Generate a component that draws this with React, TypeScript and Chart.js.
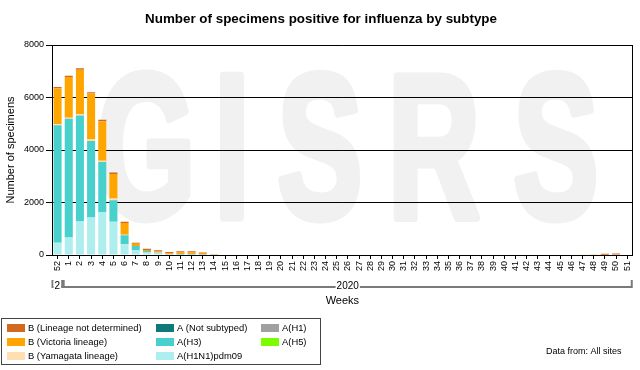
import React, { useEffect, useRef } from "react";
import { Chart, registerables } from "chart.js";

Chart.register(...registerables);

const FONT = '"Liberation Sans", Arial, sans-serif';

const weeks = [
  "52", "1", "2", "3", "4", "5", "6", "7", "8", "9", "10", "11", "12", "13", "14", "15", "16", "17", "18", "19",
  "20", "21", "22", "23", "24", "25", "26", "27", "28", "29", "30", "31", "32", "33", "34", "35", "36", "37", "38",
  "39", "40", "41", "42", "43", "44", "45", "46", "47", "48", "49", "50", "51",
];

const yearLabels = ["2019", "2020"];
const yearStartIndex = [0, 1];

// Values per week (index 0 = week 52 of 2019)
const h1n1pdm09 = [
  470, 670, 1280, 1430, 1640, 1270, 410, 190, 100, 60, 20, 20, 20, 10, 5, 0, 0, 0, 0, 0,
  0, 0, 0, 0, 0, 0, 0, 0, 0, 0, 0, 0, 0, 0, 0, 0, 0, 0, 0,
  0, 0, 0, 0, 0, 0, 0, 0, 0, 0, 0, 0, 0,
];
const h3 = [
  4470, 4520, 4030, 2910, 1900, 820, 340, 150, 50, 30, 10, 20, 20, 10, 5, 0, 0, 0, 0, 0,
  0, 0, 0, 0, 0, 0, 0, 0, 0, 0, 0, 0, 0, 0, 0, 0, 0, 0, 0,
  0, 0, 0, 0, 0, 0, 0, 0, 0, 0, 0, 0, 0,
];
const notSubtyped = [
  0, 0, 0, 0, 0, 0, 0, 0, 0, 0, 0, 0, 0, 0, 0, 0, 0, 0, 0, 0,
  0, 0, 0, 0, 0, 0, 0, 0, 0, 0, 0, 0, 0, 0, 0, 0, 0, 0, 0,
  0, 0, 0, 0, 0, 0, 0, 0, 0, 0, 0, 0, 0,
];
const h1 = [
  0, 0, 0, 0, 0, 0, 0, 0, 0, 0, 0, 0, 0, 0, 0, 0, 0, 0, 0, 0,
  0, 0, 0, 0, 0, 0, 0, 0, 0, 0, 0, 0, 0, 0, 0, 0, 0, 0, 0,
  0, 0, 0, 0, 0, 0, 0, 0, 0, 0, 0, 0, 0,
];
const h5 = [
  0, 0, 0, 0, 0, 0, 0, 0, 0, 0, 0, 0, 0, 0, 0, 0, 0, 0, 0, 0,
  0, 0, 0, 0, 0, 0, 0, 0, 0, 0, 0, 0, 0, 0, 0, 0, 0, 0, 0,
  0, 0, 0, 0, 0, 0, 0, 0, 0, 0, 0, 0, 0,
];
const yamagata = [
  50, 40, 60, 60, 50, 60, 20, 5, 5, 5, 0, 0, 0, 0, 0, 0, 0, 0, 0, 0,
  0, 0, 0, 0, 0, 0, 0, 0, 0, 0, 0, 0, 0, 0, 0, 0, 0, 0, 0,
  0, 0, 0, 0, 0, 0, 0, 0, 10, 0, 0, 0, 0,
];
const victoria = [
  1360, 1550, 1690, 1750, 1510, 940, 450, 85, 40, 40, 40, 60, 60, 60, 10, 0, 0, 0, 0, 0,
  0, 0, 0, 0, 0, 0, 0, 0, 0, 0, 0, 0, 0, 0, 0, 0, 0, 0, 0,
  0, 0, 0, 0, 0, 0, 0, 0, 0, 5, 10, 15, 0,
];
const lineageNotDetermined = [
  50, 50, 50, 50, 50, 50, 50, 40, 40, 50, 45, 40, 40, 20, 5, 0, 0, 0, 0, 0,
  0, 0, 0, 0, 0, 0, 0, 0, 0, 0, 0, 0, 0, 0, 0, 0, 0, 0, 0,
  0, 0, 0, 0, 0, 0, 0, 0, 0, 0, 35, 40, 0,
];

const seriesLabels = {
  notDet: "B (Lineage not determined)",
  vic: "B (Victoria lineage)",
  yam: "B (Yamagata lineage)",
  notSub: "A (Not subtyped)",
  h3: "A(H3)",
  h1n1: "A(H1N1)pdm09",
  h1: "A(H1)",
  h5: "A(H5)",
};

const colors = {
  notDet: "#d2691e",
  vic: "#ffa500",
  yam: "#ffdeb0",
  notSub: "#0e7a78",
  h3: "#48d1cc",
  h1n1: "#afeeee",
  h1: "#a0a0a0",
  h5: "#7cfc00",
};

// legend layout order (column-major)
const legendColumns = [
  ["notDet", "vic", "yam"],
  ["notSub", "h3", "h1n1"],
  ["h1", "h5"],
];

const titleText = "Number of specimens positive for influenza by subtype";
const yTitle = "Number of specimens";
const xTitle = "Weeks";
const sourceText = "Data from: All sites";
const watermark = ["G", "I", "S", "R", "S"];

const overlayPlugin = {
  id: "overlay",
  beforeDraw(chart: any) {
    const ctx = chart.ctx;
    ctx.save();
    ctx.fillStyle = "#ffffff";
    ctx.fillRect(0, 0, chart.width, chart.height);
    // watermark
    ctx.fillStyle = "#f1f1f1";
    ctx.strokeStyle = "#f1f1f1";
    ctx.lineWidth = 9;
    ctx.lineJoin = "round";
    ctx.font = `bold 205px ${FONT}`;
    ctx.textBaseline = "alphabetic";
    ctx.textAlign = "center";
    const centers = [146, 232, 320, 434, 556];
    watermark.forEach((ch, i) => {
      ctx.save();
      ctx.translate(centers[i], 217);
      ctx.scale(0.62, 1);
      ctx.fillText(ch, 0, 0);
      ctx.strokeText(ch, 0, 0);
      ctx.restore();
    });
    ctx.restore();
  },
  afterDraw(chart: any) {
    const ctx = chart.ctx;
    const area = chart.chartArea;
    const xs = chart.scales.x;
    ctx.save();
    // right border
    ctx.strokeStyle = "#000";
    ctx.lineWidth = 1;
    ctx.beginPath();
    ctx.moveTo(Math.round(area.right) - 0.5, area.top);
    ctx.lineTo(Math.round(area.right) - 0.5, area.bottom);
    ctx.stroke();

    // title
    ctx.fillStyle = "#000";
    ctx.font = `bold 13.4px ${FONT}`;
    ctx.textAlign = "center";
    ctx.textBaseline = "middle";
    ctx.fillText(titleText, 321, 19);

    // year groups
    const half = (xs.getPixelForValue(1) - xs.getPixelForValue(0)) / 2;
    const yLine = 287;
    ctx.font = `10px ${FONT}`;
    yearLabels.forEach((lab, gi) => {
      const s = yearStartIndex[gi];
      const e = gi + 1 < yearStartIndex.length ? yearStartIndex[gi + 1] - 1 : weeks.length - 1;
      const l = xs.getPixelForValue(s) - half + 0.5;
      const r = xs.getPixelForValue(e) + half - 1;
      ctx.strokeStyle = "#7a7a7a";
      ctx.lineWidth = 2;
      ctx.beginPath();
      ctx.moveTo(l, yLine - 7);
      ctx.lineTo(l, yLine + 1);
      ctx.moveTo(l, yLine);
      ctx.lineTo(r, yLine);
      ctx.moveTo(r, yLine - 7);
      ctx.lineTo(r, yLine + 1);
      ctx.stroke();
      let text = lab;
      const avail = r - l - 4;
      while (text.length > 1 && ctx.measureText(text).width > avail) text = text.slice(0, -1);
      const w = ctx.measureText(text).width;
      const cx = (l + r) / 2;
      ctx.fillStyle = "#fff";
      ctx.fillRect(cx - w / 2 - 1, yLine - 6, w + 2, 12);
      ctx.fillStyle = "#000";
      ctx.textAlign = "center";
      ctx.textBaseline = "middle";
      ctx.fillText(text, cx, yLine - 1);
    });

    // x title
    ctx.font = `11px ${FONT}`;
    ctx.fillStyle = "#000";
    ctx.fillText(xTitle, (area.left + area.right) / 2, 301);

    // legend box
    ctx.strokeStyle = "#444";
    ctx.lineWidth = 1;
    ctx.strokeRect(1.5, 318.5, 319, 46);
    const colX = [7, 156, 261];
    const rowY = [328, 342, 356];
    ctx.font = `9.4px ${FONT}`;
    ctx.textAlign = "left";
    ctx.textBaseline = "middle";
    legendColumns.forEach((col, ci) => {
      col.forEach((key, ri) => {
        ctx.fillStyle = (colors as any)[key];
        ctx.fillRect(colX[ci], rowY[ri] - 4, 18, 8);
        ctx.fillStyle = "#000";
        ctx.fillText((seriesLabels as any)[key], colX[ci] + 21, rowY[ri]);
      });
    });

    // source
    ctx.font = `9px ${FONT}`;
    ctx.textAlign = "left";
    ctx.fillText(sourceText, 546, 352);
    ctx.restore();
  },
};

export default function App() {
  const ref = useRef<HTMLCanvasElement>(null);
  useEffect(() => {
    if (!ref.current) return;
    const mk = (key: string, data: number[]) => ({
      label: (seriesLabels as any)[key],
      data,
      backgroundColor: (colors as any)[key],
      borderWidth: 0,
      barPercentage: 0.72,
      categoryPercentage: 1,
    });
    const chart = new Chart(ref.current, {
      type: "bar",
      data: {
        labels: weeks,
        datasets: [
          mk("h1n1", h1n1pdm09),
          mk("h3", h3),
          mk("h1", h1),
          mk("h5", h5),
          mk("notSub", notSubtyped),
          mk("yam", yamagata),
          mk("vic", victoria),
          mk("notDet", lineageNotDetermined),
        ],
      },
      options: {
        responsive: false,
        animation: false,
        devicePixelRatio: 1,
        layout: { padding: { left: 0, right: 2, top: 45, bottom: 0 } },
        plugins: {
          legend: { display: false },
          title: { display: false },
          tooltip: { enabled: false },
        },
        scales: {
          x: {
            stacked: true,
            grid: { display: true, drawOnChartArea: false, offset: false, tickLength: 4, color: "#000" },
            border: { color: "#000" },
            ticks: {
              font: { size: 9, family: FONT },
              color: "#000",
              minRotation: 90,
              maxRotation: 90,
              autoSkip: false,
              padding: 2,
            },
            afterFit: (s: any) => {
              s.height = 115;
            },
          },
          y: {
            stacked: true,
            min: 0,
            max: 8000,
            ticks: {
              stepSize: 2000,
              font: { size: 9, family: FONT },
              color: "#000",
              padding: 2,
              callback: (v: any) => String(v),
            },
            grid: { color: "#000", tickLength: 6 },
            border: { color: "#000" },
            title: {
              display: true,
              text: yTitle,
              font: { size: 11, family: FONT },
              color: "#000",
              padding: { top: 4, bottom: 0 },
            },
            afterFit: (s: any) => {
              s.width = 52;
            },
          },
        },
      },
      plugins: [overlayPlugin],
    });
    return () => chart.destroy();
  }, []);
  return (
    <div style={{ position: "fixed", left: 0, top: 0, width: 640, height: 370, background: "#fff" }}>
      <canvas ref={ref} width={640} height={370} style={{ width: 640, height: 370 }} />
    </div>
  );
}
